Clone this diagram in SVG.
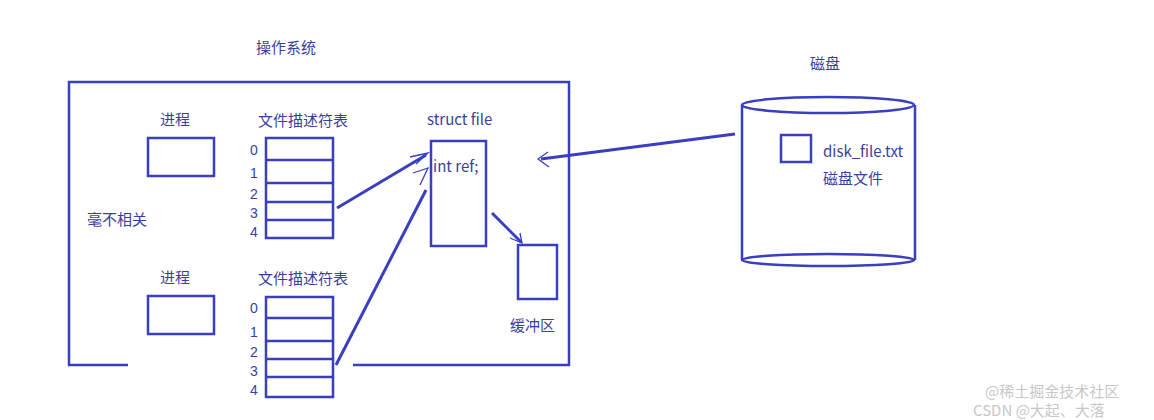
<svg xmlns="http://www.w3.org/2000/svg" width="1154" height="420" viewBox="0 0 1154 420">
<style>
.s{fill:none;stroke:#3a3fbf;stroke-width:2.5}
.a{fill:none;stroke:#3a3fbf;stroke-width:3}
.h{fill:none;stroke:#3a3fbf;stroke-width:1.3}
text{font-family:"Noto Sans CJK SC","Liberation Sans",sans-serif;font-size:15px;fill:#3a3f9f}
.n{font-family:"Liberation Sans",sans-serif;font-size:14px;text-anchor:middle}
.w{fill:#c8c8c8;font-size:15px}
</style>
<rect width="1154" height="420" fill="#fff"/>
<text x="256" y="53">操作系统</text>
<g id="os"><path class="s" d="M128,365H69V82H569V365H353"/></g>
<text x="87" y="225">毫不相关</text>
<g id="p1"><text x="160" y="125">进程</text><rect class="s" x="148" y="138" width="66" height="38"/></g>
<g id="p2"><text x="160" y="283">进程</text><rect class="s" x="148" y="296" width="66" height="38"/></g>
<g id="fd1"><text x="258" y="126">文件描述符表</text>
<path class="s" d="M266,138H333V238H266Z M266,160H333 M266,183H333 M266,202H333 M266,220H333"/>
<text class="n" x="254" y="155">0</text><text class="n" x="254" y="178">1</text><text class="n" x="254" y="199">2</text><text class="n" x="254" y="218">3</text><text class="n" x="254" y="237">4</text></g>
<g id="fd2"><text x="258" y="284">文件描述符表</text>
<path class="s" d="M266,297H333V397H266Z M266,318H333 M266,341H333 M266,359H333 M266,377H333"/>
<text class="n" x="254" y="313">0</text><text class="n" x="254" y="337">1</text><text class="n" x="254" y="357">2</text><text class="n" x="254" y="376">3</text><text class="n" x="254" y="395">4</text></g>
<g id="sf"><text x="427" y="125">struct file</text><rect class="s" x="431" y="141" width="55" height="105"/><text x="433" y="172">int ref;</text></g>
<g id="buf"><rect class="s" x="518" y="245" width="39" height="54"/><text x="510" y="331">缓冲区</text></g>
<g id="disk"><text x="810" y="69">磁盘</text>
<path class="s" d="M742,105V260 M915,105V260"/>
<ellipse class="s" cx="828" cy="105" rx="86" ry="8"/>
<ellipse class="s" cx="828" cy="260" rx="86" ry="6"/>
<rect class="s" x="781" y="135" width="30" height="27"/>
<text x="823" y="157">disk_file.txt</text><text x="823" y="184">磁盘文件</text></g>
<g id="connectors">
<path class="a" d="M337,208L426,155"/><path class="h" d="M410,157L428,153L416,164"/>
<path class="a" d="M336,365L426,190"/><path class="h" d="M413,173L428,168L420,185"/>
<path class="a" d="M492,213L521,242"/><path class="h" d="M510,238L522,243L520,233"/>
<path class="a" d="M735,134L541,159"/><path class="h" d="M548,152L538,159L549,167"/>
</g>
<text class="w" x="985" y="397">@稀土掘金技术社区</text>
<text class="w" x="973" y="416">CSDN @大起、大落</text>
</svg>
